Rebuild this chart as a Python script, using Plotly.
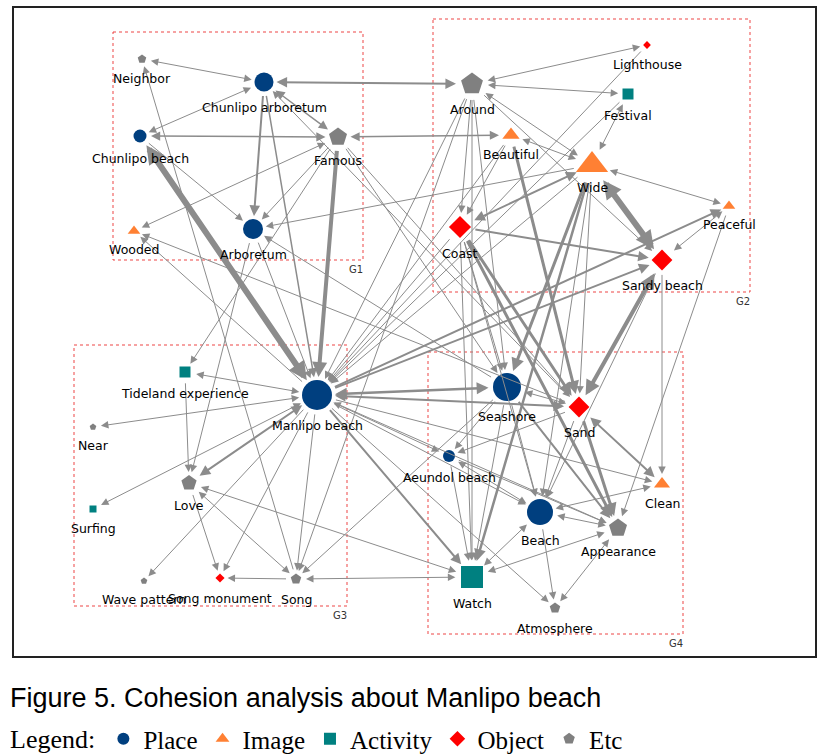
import plotly.graph_objects as go

# ---------------------------------------------------------
# Nodes: keyword, type, layout position (px) and node size
# ---------------------------------------------------------
node_names = ["Neighbor", "Chunlipo arboretum", "Chunlipo beach", "Famous", "Wooded", "Arboretum",
              "Lighthouse", "Around", "Festival", "Beautiful", "Wide", "Peaceful", "Coast", "Sandy beach",
              "Tideland experience", "Manlipo beach", "Near", "Love", "Surfing", "Wave pattern",
              "Song monument", "Song",
              "Seashore", "Sand", "Aeundol beach", "Clean", "Beach", "Appearance", "Watch", "Atmosphere"]
node_type = ["Etc", "Place", "Place", "Etc", "Image", "Place",
             "Object", "Etc", "Activity", "Image", "Image", "Image", "Object", "Object",
             "Activity", "Place", "Etc", "Etc", "Activity", "Etc", "Object", "Etc",
             "Place", "Object", "Place", "Image", "Place", "Etc", "Activity", "Etc"]
node_x = [142, 264, 140, 338, 134, 253,
          647, 472, 628, 511, 592, 729, 460, 662,
          185, 317, 93, 189, 93, 144, 220, 296,
          507, 579, 449, 662, 540, 618, 472, 555]
node_y = [59, 82, 136, 137, 231, 229,
          45, 84, 94, 135, 165, 206, 227, 260,
          372, 395, 427, 483, 509, 581, 578, 579,
          387, 407, 456, 484, 512, 528, 577, 608]
node_size = [9, 19, 13, 19, 11, 20,
             6, 23, 11, 15, 28, 11, 17, 16,
             11, 30, 7, 16, 7, 7, 7, 11,
             28, 16, 12, 14, 26, 19, 22, 11]

# Edges: (source, target, weight, bidirectional)
edges = [
    ("Neighbor", "Chunlipo arboretum", 1, True),
    ("Song", "Neighbor", 1, False),
    ("Chunlipo arboretum", "Chunlipo beach", 1, True),
    ("Chunlipo arboretum", "Famous", 1.5, True),
    ("Chunlipo arboretum", "Arboretum", 2, False),
    ("Chunlipo arboretum", "Manlipo beach", 1.5, False),
    ("Around", "Chunlipo arboretum", 2, True),
    ("Sand", "Chunlipo arboretum", 1, False),
    ("Chunlipo beach", "Famous", 1.5, True),
    ("Chunlipo beach", "Manlipo beach", 6, True),
    ("Chunlipo beach", "Arboretum", 1, False),
    ("Famous", "Wooded", 1, True),
    ("Famous", "Arboretum", 1, False),
    ("Famous", "Manlipo beach", 4, False),
    ("Beautiful", "Famous", 1.5, True),
    ("Famous", "Seashore", 1, False),
    ("Famous", "Sand", 1, False),
    ("Famous", "Tideland experience", 1, False),
    ("Wide", "Arboretum", 1, False),
    ("Seashore", "Arboretum", 1, False),
    ("Sand", "Wooded", 1, False),
    ("Manlipo beach", "Wooded", 1, False),
    ("Arboretum", "Manlipo beach", 1, False),
    ("Arboretum", "Love", 1, False),
    ("Around", "Manlipo beach", 1, False),
    ("Beautiful", "Manlipo beach", 1, False),
    ("Coast", "Manlipo beach", 1, False),
    ("Wide", "Manlipo beach", 1, False),
    ("Festival", "Manlipo beach", 1, False),
    ("Lighthouse", "Manlipo beach", 1, False),
    ("Manlipo beach", "Peaceful", 2, False),
    ("Manlipo beach", "Sandy beach", 2, False),
    ("Around", "Lighthouse", 1, True),
    ("Around", "Festival", 1, True),
    ("Around", "Wide", 1, True),
    ("Around", "Coast", 1, False),
    ("Around", "Seashore", 1, False),
    ("Around", "Watch", 1, False),
    ("Around", "Sandy beach", 1, False),
    ("Around", "Song", 1, False),
    ("Festival", "Wide", 1, True),
    ("Beautiful", "Wide", 1, True),
    ("Beautiful", "Coast", 1, False),
    ("Beautiful", "Sand", 3, False),
    ("Wide", "Sandy beach", 6, True),
    ("Wide", "Peaceful", 1, True),
    ("Coast", "Wide", 2, True),
    ("Wide", "Seashore", 3, False),
    ("Wide", "Watch", 2.5, False),
    ("Wide", "Sand", 1, False),
    ("Wide", "Beach", 1, False),
    ("Coast", "Sandy beach", 2, False),
    ("Coast", "Sand", 3, False),
    ("Coast", "Appearance", 3, False),
    ("Coast", "Seashore", 1, False),
    ("Coast", "Beach", 1, False),
    ("Coast", "Watch", 1, False),
    ("Sandy beach", "Sand", 4, True),
    ("Sandy beach", "Peaceful", 1, True),
    ("Sandy beach", "Clean", 1, False),
    ("Sandy beach", "Beach", 1, False),
    ("Peaceful", "Appearance", 1, False),
    ("Tideland experience", "Manlipo beach", 1, True),
    ("Tideland experience", "Love", 1, False),
    ("Near", "Manlipo beach", 1, True),
    ("Love", "Manlipo beach", 2, True),
    ("Surfing", "Manlipo beach", 1, True),
    ("Manlipo beach", "Wave pattern", 1, False),
    ("Love", "Song monument", 1, False),
    ("Love", "Song", 1, True),
    ("Manlipo beach", "Song monument", 1, False),
    ("Manlipo beach", "Song", 1, False),
    ("Song", "Song monument", 1, False),
    ("Song", "Watch", 1, True),
    ("Seashore", "Song", 1, False),
    ("Love", "Watch", 1, True),
    ("Seashore", "Manlipo beach", 2.5, True),
    ("Sand", "Manlipo beach", 2, True),
    ("Seashore", "Sand", 1, True),
    ("Seashore", "Aeundol beach", 1, False),
    ("Seashore", "Watch", 1, False),
    ("Seashore", "Beach", 1, False),
    ("Seashore", "Appearance", 2, False),
    ("Sand", "Clean", 2, True),
    ("Sand", "Appearance", 3, False),
    ("Sand", "Beach", 1, False),
    ("Sand", "Aeundol beach", 1, False),
    ("Aeundol beach", "Beach", 1, True),
    ("Aeundol beach", "Appearance", 1, False),
    ("Aeundol beach", "Manlipo beach", 1, True),
    ("Aeundol beach", "Watch", 1, False),
    ("Manlipo beach", "Clean", 1, False),
    ("Clean", "Beach", 1, True),
    ("Beach", "Appearance", 1, True),
    ("Beach", "Watch", 1, True),
    ("Beach", "Atmosphere", 1, False),
    ("Appearance", "Watch", 1, True),
    ("Appearance", "Atmosphere", 1, True),
    ("Manlipo beach", "Atmosphere", 1, False),
    ("Manlipo beach", "Watch", 2, False),
    ("Manlipo beach", "Beach", 1, False),
    ("Manlipo beach", "Appearance", 1, False),
]

categories = ["Place", "Image", "Activity", "Object", "Etc"]
group_names = ["G1", "G2", "G3", "G4"]

# ---------------------------------------------------------
# Styling
# ---------------------------------------------------------
cat_style = {
    "Place": ("circle", "#003f7f"),
    "Image": ("triangle-up", "#ff8033"),
    "Activity": ("square", "#008080"),
    "Object": ("diamond", "#ff0000"),
    "Etc": ("pentagon", "#808080"),
}
EDGE = "#8c8c8c"
LABEL_FONT = dict(family="DejaVu Sans", size=12.5, color="#000")

# group boxes (x0, y0, x1, y1) in figure pixels
group_boxes = [(113, 32, 363, 260), (433, 19, 750, 292), (74, 345, 347, 606), (428, 352, 683, 634)]


def below(sym, s):
    return {"circle": s / 2, "square": s / 2, "diamond": 0.65 * s,
            "triangle-up": s / 4, "pentagon": 0.42 * s}[sym]


def radius(sym, s):
    return {"circle": s / 2, "square": 0.62 * s, "diamond": 0.65 * s,
            "triangle-up": 0.5 * s, "pentagon": 0.5 * s}[sym]


idx = {n: i for i, n in enumerate(node_names)}

fig = go.Figure()

# nodes, one trace per keyword type (gives the legend too)
for cat in categories:
    sel = [i for i, t in enumerate(node_type) if t == cat]
    sym, col = cat_style[cat]
    fig.add_trace(go.Scatter(
        x=[node_x[i] for i in sel], y=[node_y[i] for i in sel],
        mode="markers", name=cat,
        text=[node_names[i] for i in sel], hoverinfo="text",
        marker=dict(symbol=sym, color=col, opacity=1,
                    size=[node_size[i] for i in sel], line=dict(width=0)),
    ))

annotations = []
# edges as arrows
for src, dst, w, both in edges:
    i, j = idx[src], idx[dst]
    rs = radius(cat_style[node_type[i]][0], node_size[i])
    rd = radius(cat_style[node_type[j]][0], node_size[j])
    asz = 1.5 / w ** 0.5
    annotations.append(dict(
        x=node_x[j], y=node_y[j], ax=node_x[i], ay=node_y[i],
        xref="x", yref="y", axref="x", ayref="y", text="", showarrow=True,
        arrowhead=2, startarrowhead=2, arrowside="end+start" if both else "end",
        arrowwidth=w, arrowsize=asz, startarrowsize=asz, arrowcolor=EDGE,
        standoff=rd + 3, startstandoff=rs + 3,
    ))

# node labels
for i, n in enumerate(node_names):
    sym = cat_style[node_type[i]][0]
    annotations.append(dict(
        x=node_x[i], y=node_y[i] + below(sym, node_size[i]) + 15.5, xref="x", yref="y",
        text=n, showarrow=False, font=LABEL_FONT, xanchor="center", yanchor="middle",
    ))

shapes = [dict(type="rect", xref="x", yref="y", x0=13, y0=7, x1=816, y1=657,
               line=dict(color="#222", width=2))]
for g, (x0, y0, x1, y1) in zip(group_names, group_boxes):
    shapes.append(dict(type="rect", xref="x", yref="y", x0=x0, y0=y0, x1=x1, y1=y1,
                       line=dict(color="rgba(235,50,50,0.9)", width=1, dash="dot"), layer="below"))
    annotations.append(dict(x=x1 - 7, y=y1 + 9, xref="x", yref="y", text=g, showarrow=False,
                            font=dict(family="DejaVu Sans", size=10, color="#333")))

# caption and legend title
annotations.append(dict(x=8, y=698, xref="x", yref="y", xanchor="left", yanchor="middle",
                        text="Figure 5. Cohesion analysis about Manlipo beach", showarrow=False,
                        font=dict(family="Liberation Sans", size=27, color="#000")))
annotations.append(dict(x=8, y=739, xref="x", yref="y", xanchor="left", yanchor="middle",
                        text="Legend:", showarrow=False,
                        font=dict(family="Liberation Serif", size=26, color="#000")))

fig.update_layout(
    width=827, height=754,
    margin=dict(l=0, r=0, t=0, b=0, autoexpand=False),
    paper_bgcolor="white", plot_bgcolor="white",
    xaxis=dict(range=[0, 827], visible=False, fixedrange=True),
    yaxis=dict(range=[754, 0], visible=False, fixedrange=True),
    showlegend=True,
    legend=dict(orientation="h", x=0.125, xanchor="left", y=1 - 739 / 754, yanchor="middle",
                font=dict(family="Liberation Serif", size=25, color="#000"),
                itemsizing="constant", bgcolor="rgba(0,0,0,0)"),
    shapes=shapes, annotations=annotations,
)

# the page body has an 8px default margin; drop it so the figure sits at the window origin
fig.write_html("out.html", config={"displayModeBar": False},
               post_script="document.body.style.margin='0';")
